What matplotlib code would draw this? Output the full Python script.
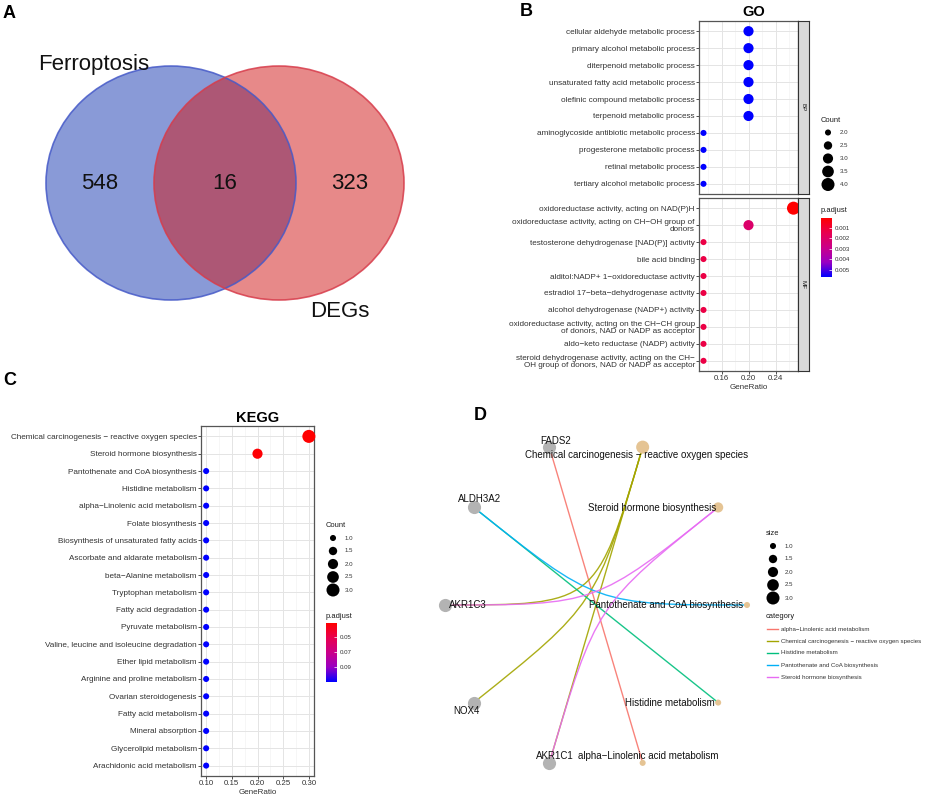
import numpy as np
import matplotlib
matplotlib.use('Agg')
import matplotlib.pyplot as plt
from matplotlib.patches import Ellipse, PathPatch
from matplotlib.path import Path
from matplotlib.colors import LinearSegmentedColormap, Normalize
from matplotlib.cm import ScalarMappable

plt.rcParams['font.family'] = ['Liberation Sans', 'DejaVu Sans']

# ---------------- data ----------------
# A: Venn (Ferroptosis only, shared, DEGs only)
venn_sets = ['Ferroptosis', 'DEGs']
venn_counts = [548, 16, 323]

# B: GO enrichment, GeneRatio = Count / go_total
go_total = 15
go_bp_terms = [
    'cellular aldehyde metabolic process',
    'primary alcohol metabolic process',
    'diterpenoid metabolic process',
    'unsaturated fatty acid metabolic process',
    'olefinic compound metabolic process',
    'terpenoid metabolic process',
    'aminoglycoside antibiotic metabolic process',
    'progesterone metabolic process',
    'retinal metabolic process',
    'tertiary alcohol metabolic process',
]
go_bp_count = [3, 3, 3, 3, 3, 3, 2, 2, 2, 2]
go_bp_padj = [0.0057, 0.0057, 0.0057, 0.0057, 0.0057, 0.0057, 0.0057, 0.0057, 0.0057, 0.0057]

go_mf_terms = [
    'oxidoreductase activity, acting on NAD(P)H',
    'oxidoreductase activity, acting on CH\u2212OH group of\ndonors',
    'testosterone dehydrogenase [NAD(P)] activity',
    'bile acid binding',
    'alditol:NADP+ 1\u2212oxidoreductase activity',
    'estradiol 17\u2212beta\u2212dehydrogenase activity',
    'alcohol dehydrogenase (NADP+) activity',
    'oxidoreductase activity, acting on the CH\u2212CH group\nof donors, NAD or NADP as acceptor',
    'aldo\u2212keto reductase (NADP) activity',
    'steroid dehydrogenase activity, acting on the CH\u2212\nOH group of donors, NAD or NADP as acceptor',
]
go_mf_count = [4, 3, 2, 2, 2, 2, 2, 2, 2, 2]
go_mf_padj = [0.00005, 0.0021, 0.0013, 0.0013, 0.0013, 0.0013, 0.0013, 0.0013, 0.0013, 0.0013]

# C: KEGG enrichment, GeneRatio = Count / kegg_total
kegg_total = 10
kegg_terms = [
    'Chemical carcinogenesis \u2212 reactive oxygen species',
    'Steroid hormone biosynthesis',
    'Pantothenate and CoA biosynthesis',
    'Histidine metabolism',
    'alpha\u2212Linolenic acid metabolism',
    'Folate biosynthesis',
    'Biosynthesis of unsaturated fatty acids',
    'Ascorbate and aldarate metabolism',
    'beta\u2212Alanine metabolism',
    'Tryptophan metabolism',
    'Fatty acid degradation',
    'Pyruvate metabolism',
    'Valine, leucine and isoleucine degradation',
    'Ether lipid metabolism',
    'Arginine and proline metabolism',
    'Ovarian steroidogenesis',
    'Fatty acid metabolism',
    'Mineral absorption',
    'Glycerolipid metabolism',
    'Arachidonic acid metabolism',
]
kegg_count = [3, 2, 1, 1, 1, 1, 1, 1, 1, 1, 1, 1, 1, 1, 1, 1, 1, 1, 1, 1]
kegg_padj = [0.031, 0.032, 0.11, 0.11, 0.11, 0.11, 0.11, 0.11, 0.11, 0.11,
             0.11, 0.11, 0.11, 0.11, 0.11, 0.11, 0.11, 0.11, 0.11, 0.11]

# D: gene-concept network (circular layout order)
cnet_genes = ['FADS2', 'ALDH3A2', 'AKR1C3', 'NOX4', 'AKR1C1']
cnet_categories = [
    'alpha\u2212Linolenic acid metabolism',
    'Chemical carcinogenesis \u2212 reactive oxygen species',
    'Histidine metabolism',
    'Pantothenate and CoA biosynthesis',
    'Steroid hormone biosynthesis',
]
cnet_colors = ['#F8766D', '#A3A500', '#00BF7D', '#00B0F6', '#E76BF3']
cnet_nodes = [
    'Pantothenate and CoA biosynthesis',
    'Steroid hormone biosynthesis',
    'Chemical carcinogenesis \u2212 reactive oxygen species',
    'FADS2', 'ALDH3A2', 'AKR1C3', 'NOX4', 'AKR1C1',
    'alpha\u2212Linolenic acid metabolism',
    'Histidine metabolism',
]
cnet_edges = [
    ('alpha\u2212Linolenic acid metabolism', 'FADS2'),
    ('Chemical carcinogenesis \u2212 reactive oxygen species', 'AKR1C3'),
    ('Chemical carcinogenesis \u2212 reactive oxygen species', 'NOX4'),
    ('Chemical carcinogenesis \u2212 reactive oxygen species', 'AKR1C1'),
    ('Histidine metabolism', 'ALDH3A2'),
    ('Pantothenate and CoA biosynthesis', 'ALDH3A2'),
    ('Steroid hormone biosynthesis', 'AKR1C3'),
    ('Steroid hormone biosynthesis', 'AKR1C1'),
]

# ---------------- helpers ----------------
W, H = 934, 801
fig = plt.figure(figsize=(W / 100, H / 100), dpi=100)

cmap = LinearSegmentedColormap.from_list(
    'padj', ['#FF0000', '#E8004F', '#CA0089', '#9A00C2', '#0000FF'])
TXT = '#333333'


def px_axes(x0, y0, x1, y1):
    return fig.add_axes([x0 / W, 1 - y1 / H, (x1 - x0) / W, (y1 - y0) / H])


def ptext(x, y, s, **kw):
    fig.text(x / W, 1 - y / H, s, **kw)


def dot_size(c, cmin, cmax):
    return 19 + (np.asarray(c, float) - cmin) / (cmax - cmin) * 69


def dotplot(ax, terms, counts, total, padj, norm, cmin, cmax, xlim, major, minor, show_x=True):
    n = len(terms)
    y = np.arange(n)
    ratio = np.array(counts) / total
    ax.scatter(ratio, y, s=dot_size(counts, cmin, cmax), c=padj, cmap=cmap, norm=norm,
               linewidths=0, zorder=3, clip_on=False)
    ax.set_xlim(*xlim)
    ax.set_ylim(n - 1 + 0.6, -0.6)
    ax.set_yticks(y)
    ax.set_yticklabels(terms, fontsize=5.9, color=TXT)
    for t in ax.get_yticklabels():
        t.set_linespacing(0.95)
    ax.set_xticks(major)
    ax.set_xticks(minor, minor=True)
    ax.set_xticklabels([f'{v:.2f}' for v in major], fontsize=5.7, color=TXT)
    ax.grid(which='major', color='#E4E4E4', lw=0.7)
    ax.grid(which='minor', axis='x', color='#F1F1F1', lw=0.45)
    ax.set_axisbelow(True)
    for sp in ax.spines.values():
        sp.set_color('#555555')
        sp.set_linewidth(0.9)
    ax.tick_params(length=2, width=0.6, color='#333333', pad=1)
    ax.tick_params(which='minor', length=0)
    if show_x:
        ax.set_xlabel('GeneRatio', fontsize=5.8, color=TXT, labelpad=1)
    else:
        ax.tick_params(axis='x', length=0, labelbottom=False)


def expand(vals):
    lo, hi = min(vals), max(vals)
    pad = (hi - lo) * 0.05
    return lo - pad, hi + pad


def strip(rect, label):
    ax = px_axes(*rect)
    ax.set_facecolor('#D9D9D9')
    ax.set_xticks([])
    ax.set_yticks([])
    for sp in ax.spines.values():
        sp.set_color('#333333')
        sp.set_linewidth(0.8)
    ax.text(0.5, 0.5, label, rotation=270, ha='center', va='center',
            fontsize=4.5, color='#1A1A1A', transform=ax.transAxes)


def size_key(rect, title, breaks, cmin, cmax):
    x0, y0, x1, y1 = rect
    ax = px_axes(x0, y0, x1, y1)
    ax.axis('off')
    n = len(breaks)
    ax.set_xlim(0, x1 - x0)
    ax.set_ylim(n - 0.5, -0.5)
    ax.scatter(np.full(n, 7), np.arange(n), s=dot_size(breaks, cmin, cmax),
               color='black', linewidths=0, clip_on=False)
    for i, b in enumerate(breaks):
        ax.text(19, i, f'{b:.1f}', fontsize=4.4, va='center', color=TXT)
    ptext(x0, y0 - 6, title, fontsize=5.4, va='center', color='#1A1A1A')


def color_key(rect, title, norm, ticks, fmt):
    x0, y0, x1, y1 = rect
    cax = px_axes(x0, y0, x1, y1)
    cb = fig.colorbar(ScalarMappable(norm=norm, cmap=cmap), cax=cax)
    cb.ax.invert_yaxis()
    cb.set_ticks(ticks)
    cb.set_ticklabels([fmt.format(t) for t in ticks])
    cb.outline.set_visible(False)
    cax.tick_params(length=2.5, width=0.5, color='white', direction='in',
                    labelsize=4.4, labelcolor=TXT, pad=2)
    ptext(x0, y0 - 7, title, fontsize=5.4, va='center', color='#1A1A1A')


# ---------------- A: Venn ----------------
ax = px_axes(0, 30, 420, 340)
ax.axis('off')
ax.set_xlim(-1.8, 1.56)
ax.set_ylim(-1.342, 1.308)
d = 0.432
ax.add_patch(Ellipse((-d, 0), 2, 2, facecolor=(21 / 255, 55 / 255, 177 / 255, 0.5), edgecolor='none'))
ax.add_patch(Ellipse((d, 0), 2, 2, facecolor=(209 / 255, 21 / 255, 21 / 255, 0.5), edgecolor='none'))
ax.add_patch(Ellipse((-d, 0), 2, 2, facecolor='none', edgecolor=(70 / 255, 90 / 255, 200 / 255, 0.85), lw=1.2))
ax.add_patch(Ellipse((d, 0), 2, 2, facecolor='none', edgecolor=(215 / 255, 60 / 255, 75 / 255, 0.85), lw=1.2))
region_x = [((-d - 1) + (d - 1)) / 2, 0, ((1 - d) + (d + 1)) / 2]
for x, c in zip(region_x, venn_counts):
    ax.text(x, 0, str(c), fontsize=16, ha='center', va='center', color='#111111')
ax.text(-d - 0.62, 0.97, venn_sets[0], fontsize=16, ha='center', va='baseline', color='#111111')
ax.text(d + 0.49, -1.145, venn_sets[1], fontsize=16, ha='center', va='baseline', color='#111111')

# ---------------- B: GO dotplot ----------------
go_ratio_all = np.array(go_bp_count + go_mf_count) / go_total
go_xlim = expand(go_ratio_all)
go_norm = Normalize(min(go_bp_padj + go_mf_padj), max(go_bp_padj + go_mf_padj))
go_cmin, go_cmax = min(go_bp_count + go_mf_count), max(go_bp_count + go_mf_count)
go_major = [0.16, 0.20, 0.24]
go_minor = [0.14, 0.18, 0.22, 0.26]

ax_bp = px_axes(699, 21, 798, 194)
dotplot(ax_bp, go_bp_terms, go_bp_count, go_total, go_bp_padj, go_norm, go_cmin, go_cmax,
        go_xlim, go_major, go_minor, show_x=False)
ax_mf = px_axes(699, 198, 798, 371)
dotplot(ax_mf, go_mf_terms, go_mf_count, go_total, go_mf_padj, go_norm, go_cmin, go_cmax,
        go_xlim, go_major, go_minor, show_x=True)
strip((798, 21, 809, 194), 'BP')
strip((798, 198, 809, 371), 'MF')
ptext(754, 12, 'GO', fontsize=10.5, fontweight='bold', ha='center', va='center')

size_key((821, 126, 853, 191), 'Count', [2.0, 2.5, 3.0, 3.5, 4.0], go_cmin, go_cmax)
color_key((821, 218, 832, 277), 'p.adjust', go_norm, [0.001, 0.002, 0.003, 0.004, 0.005], '{:.3f}')

# ---------------- C: KEGG dotplot ----------------
kegg_xlim = expand(np.array(kegg_count) / kegg_total)
kegg_norm = Normalize(min(kegg_padj), max(kegg_padj))
kegg_cmin, kegg_cmax = min(kegg_count), max(kegg_count)
ax_k = px_axes(201, 426, 314, 776)
dotplot(ax_k, kegg_terms, kegg_count, kegg_total, kegg_padj, kegg_norm, kegg_cmin, kegg_cmax,
        kegg_xlim, [0.10, 0.15, 0.20, 0.25, 0.30], [0.125, 0.175, 0.225, 0.275], show_x=True)
ptext(258, 418, 'KEGG', fontsize=10.5, fontweight='bold', ha='center', va='center')

size_key((326, 531.5, 360, 596.5), 'Count', [1.0, 1.5, 2.0, 2.5, 3.0], kegg_cmin, kegg_cmax)
color_key((326, 623, 337, 682), 'p.adjust', kegg_norm, [0.05, 0.07, 0.09], '{:.2f}')

# ---------------- D: cnetplot ----------------
ax = px_axes(420, 420, 780, 790)
ax.axis('off')
ax.set_xlim((420 - 596) / 151, (780 - 596) / 151)
ax.set_ylim((605 - 790) / 166, (605 - 420) / 166)
ang = 2 * np.pi * np.arange(len(cnet_nodes)) / len(cnet_nodes)
pos = {n: (np.cos(a), np.sin(a)) for n, a in zip(cnet_nodes, ang)}

for cat, gene in cnet_edges:
    col = cnet_colors[cnet_categories.index(cat)]
    p0, p1 = pos[cat], pos[gene]
    path = Path([p0, (0, 0), (0, 0), p1],
                [Path.MOVETO, Path.CURVE4, Path.CURVE4, Path.CURVE4])
    ax.add_patch(PathPatch(path, facecolor='none', edgecolor=col, lw=1.0, alpha=0.9, zorder=1))

cat_size = [sum(1 for c, g in cnet_edges if c == cat) for cat in cnet_categories]
gx = [pos[g][0] for g in cnet_genes]
gy = [pos[g][1] for g in cnet_genes]
ax.scatter(gx, gy, s=90, color='#B3B3B3', linewidths=0, zorder=2)
cx = [pos[c][0] for c in cnet_categories]
cy = [pos[c][1] for c in cnet_categories]
ax.scatter(cx, cy, s=dot_size(cat_size, 1, 3), color='#E5C494', linewidths=0, zorder=2)

# label offsets in pixels (dx, dy) and alignment
label_style = {
    'FADS2': (6.5, -6.5, 'center'),
    'Chemical carcinogenesis \u2212 reactive oxygen species': (-6, 7.5, 'center'),
    'ALDH3A2': (6, -8, 'center'),
    'Steroid hormone biosynthesis': (-2, 0.5, 'right'),
    'AKR1C3': (4, 0.5, 'left'),
    'Pantothenate and CoA biosynthesis': (-4, 0.5, 'right'),
    'NOX4': (-7.5, 8.5, 'center'),
    'Histidine metabolism': (-3, 0.5, 'right'),
    'AKR1C1': (6, -6.5, 'center'),
    'alpha\u2212Linolenic acid metabolism': (6, -7, 'center'),
}
for name in cnet_nodes:
    dx, dy, ha = label_style[name]
    ax.annotate(name, pos[name], xytext=(dx * 0.72, -dy * 0.72), textcoords='offset points',
                ha=ha, va='center', fontsize=7, color='#111111', zorder=4)

size_key((766, 539.5, 800, 604.5), 'size', [1.0, 1.5, 2.0, 2.5, 3.0], 1, 3)

# category legend
lax = px_axes(766, 623, 934, 683)
lax.axis('off')
lax.set_xlim(0, 168)
lax.set_ylim(len(cnet_categories) - 0.5, -0.5)
for i, (cat, col) in enumerate(zip(cnet_categories, cnet_colors)):
    lax.plot([1, 12], [i, i], color=col, lw=1.0)
    lax.text(15, i, cat, fontsize=4.4, va='center', color=TXT)
ptext(766, 616, 'category', fontsize=5.4, va='center', color='#1A1A1A')

# ---------------- panel letters ----------------
for letter, x, y in [('A', 3, 14), ('B', 520, 12), ('C', 3, 380), ('D', 474, 415)]:
    ptext(x, y, letter, fontsize=13, fontweight='bold', va='center')

fig.savefig('out.png', dpi=100)
